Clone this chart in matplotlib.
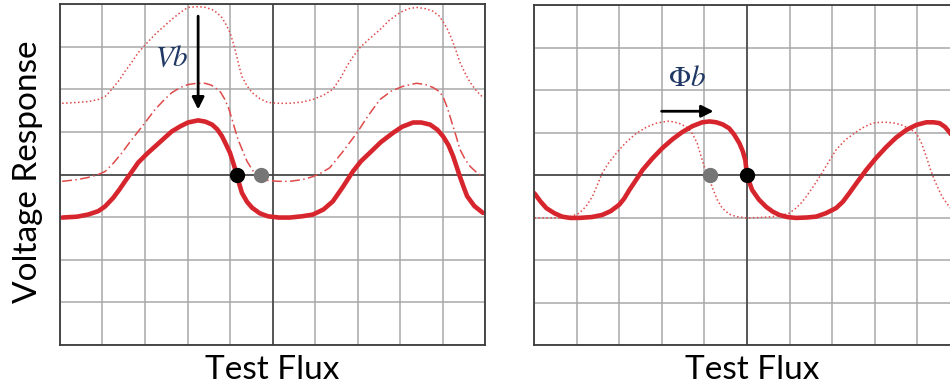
import numpy as np
import matplotlib.pyplot as plt

# grid units: x -5..5, y -4..4, operating point at the origin
# left panel: response before and after a voltage bias shift
left_x_solid = [-4.95, -4.6, -4.34, -4.1, -3.94, -3.75, -3.6, -3.47, -3.3, -3.16, -2.95, -2.76,
                -2.55, -2.37, -2.17, -1.99, -1.75, -1.58, -1.42, -1.3, -1.19, -1.1, -1.0, -0.92,
                -0.84, -0.78, -0.72, -0.6, -0.48, -0.3, -0.11, 0.15, 0.41, 0.7, 0.95, 1.2, 1.42,
                1.65, 1.89, 2.08, 2.29, 2.55, 2.84, 3.05, 3.31, 3.5, 3.71, 3.88, 4.01, 4.14,
                4.25, 4.33, 4.41, 4.5, 4.58, 4.75, 4.95]
left_y_solid = [-1.01, -0.99, -0.94, -0.86, -0.75, -0.55, -0.35, -0.16, 0.08, 0.28, 0.49, 0.66,
                0.85, 1.01, 1.13, 1.22, 1.27, 1.24, 1.17, 1.06, 0.90, 0.72, 0.51, 0.26,
                0.0, -0.23, -0.43, -0.64, -0.78, -0.91, -0.98, -1.01, -1.01, -0.98, -0.94, -0.82, -0.63,
                -0.30, 0.07, 0.31, 0.51, 0.76, 0.98, 1.12, 1.22, 1.22, 1.17, 1.05, 0.90, 0.69,
                0.43, 0.19, -0.05, -0.30, -0.51, -0.74, -0.90]

left_x_dashdot = [-4.95, -4.6, -4.34, -4.1, -3.94, -3.75, -3.54, -3.35, -3.16, -2.95, -2.76,
                  -2.55, -2.37, -2.17, -1.99, -1.79, -1.59, -1.45, -1.35, -1.22, -1.12, -1.03,
                  -0.95, -0.88, -0.81, -0.70, -0.60, -0.47, -0.34, -0.1, 0.13, 0.41, 0.7, 0.95,
                  1.15, 1.35, 1.65, 1.99, 2.25, 2.53, 2.8, 3.07, 3.39, 3.6, 3.78, 3.92, 4.01,
                  4.12, 4.22, 4.32, 4.41, 4.53, 4.65, 4.8, 4.95]
left_y_dashdot = [-0.16, -0.12, -0.07, 0.0, 0.07, 0.26, 0.51, 0.77, 1.01, 1.28, 1.53,
                  1.75, 1.92, 2.04, 2.11, 2.14, 2.14, 2.10, 2.04, 1.93, 1.76, 1.55,
                  1.29, 1.05, 0.82, 0.55, 0.31, 0.10, -0.05, -0.14, -0.16, -0.16, -0.12, -0.05,
                  0.04, 0.16, 0.53, 0.98, 1.38, 1.76, 1.96, 2.07, 2.14, 2.11, 2.04, 1.95, 1.83,
                  1.55, 1.22, 0.90, 0.59, 0.36, 0.19, 0.05, -0.05]

left_x_dotted = [-4.95, -4.6, -4.34, -4.1, -3.94, -3.85, -3.75, -3.6, -3.47, -3.3, -3.16, -2.95,
                 -2.76, -2.55, -2.37, -2.17, -1.99, -1.75, -1.58, -1.42, -1.3, -1.19, -1.1, -1.0,
                 -0.92, -0.84, -0.78, -0.72, -0.6, -0.48, -0.3, -0.11, 0.15, 0.41, 0.7, 0.95, 1.2,
                 1.42, 1.6, 1.75, 1.9, 2.06, 2.3, 2.53, 2.75, 3.0, 3.2, 3.39, 3.6, 3.78, 3.92,
                 4.01, 4.12, 4.22, 4.32, 4.41, 4.53, 4.65, 4.8, 4.95]
left_y_dotted = [1.67, 1.69, 1.71, 1.76, 1.83, 1.92, 2.04, 2.22, 2.42, 2.65, 2.86, 3.09,
                 3.29, 3.48, 3.64, 3.80, 3.92, 3.94, 3.92, 3.87, 3.79, 3.68, 3.53, 3.33,
                 3.07, 2.77, 2.52, 2.30, 2.08, 1.92, 1.78, 1.69, 1.67, 1.67, 1.70, 1.76, 1.86,
                 2.0, 2.26, 2.54, 2.77, 2.98, 3.20, 3.40, 3.62, 3.80, 3.89, 3.92, 3.89, 3.83, 3.72,
                 3.59, 3.40, 3.17, 2.90, 2.63, 2.38, 2.16, 1.96, 1.81]

# right panel: response before and after a flux bias shift
right_x_solid = [-4.99, -4.85, -4.71, -4.52, -4.34, -4.15, -3.94, -3.65, -3.40, -3.2, -3.0, -2.88,
                 -2.76, -2.6, -2.45, -2.22, -1.99, -1.75, -1.52, -1.28, -1.05, -0.88, -0.72, -0.57,
                 -0.42, -0.30, -0.18, -0.10, -0.04, 0.0, 0.05, 0.12, 0.28, 0.45, 0.6, 0.76, 0.95,
                 1.15, 1.4, 1.62, 1.85, 2.09, 2.25, 2.40, 2.6, 2.80, 3.03, 3.27, 3.5, 3.74, 3.98,
                 4.21, 4.38, 4.52, 4.65, 4.75, 4.87, 5.0]
right_y_solid = [-0.43, -0.62, -0.78, -0.90, -0.98, -1.01, -1.01, -0.99, -0.94, -0.85, -0.70, -0.55,
                 -0.35, -0.11, 0.12, 0.39, 0.63, 0.84, 1.01, 1.15, 1.24, 1.26, 1.24, 1.19,
                 1.10, 0.95, 0.75, 0.56, 0.35, 0.0, -0.16, -0.35, -0.58, -0.75, -0.86, -0.94, -0.99,
                 -1.01, -1.0, -0.98, -0.90, -0.78, -0.63, -0.43, -0.15, 0.12, 0.40, 0.66, 0.88, 1.06, 1.18,
                 1.24, 1.24, 1.22, 1.13, 1.01, 0.85, 0.65]

right_x_dotted = [-4.99, -4.6, -4.34, -4.12, -3.94, -3.78, -3.63, -3.52, -3.40, -3.25, -3.07,
                  -2.85, -2.60, -2.37, -2.13, -1.82, -1.6, -1.42, -1.28, -1.17, -1.08, -1.0, -0.9,
                  -0.8, -0.7, -0.58, -0.42, -0.25, 0.0, 0.3, 0.6, 0.8, 0.99, 1.15, 1.28, 1.39, 1.55,
                  1.70, 1.9, 2.09, 2.3, 2.56, 2.75, 2.95, 3.12, 3.30, 3.48, 3.65, 3.82, 3.98, 4.1,
                  4.21, 4.30, 4.40, 4.50, 4.58, 4.75, 4.87, 5.0]
right_y_dotted = [-1.01, -1.01, -1.01, -0.97, -0.90, -0.74, -0.51, -0.25, 0.04, 0.28, 0.51,
                  0.76, 0.98, 1.12, 1.22, 1.27, 1.22, 1.13, 0.97, 0.75, 0.45, 0.19, -0.05,
                  -0.33, -0.58, -0.78, -0.92, -0.98, -1.01, -1.0, -0.98, -0.95, -0.90, -0.78, -0.65, -0.51, -0.28,
                  -0.05, 0.28, 0.59, 0.82, 1.01, 1.13, 1.22, 1.24, 1.24, 1.22, 1.17, 1.09, 0.98, 0.74,
                  0.43, 0.15, -0.12, -0.34, -0.51, -0.75, -0.88, -0.95]

# operating points (new, old)
left_points = [(-0.84, 0.0), (-0.27, 0.0)]
right_points = [(0.0, 0.0), (-0.86, 0.0)]

RED = '#d7252d'
LIGHT_RED = '#e04a4a'
LABEL_BLUE = '#1f3864'

plt.rcParams['mathtext.fontset'] = 'stix'

fig = plt.figure(figsize=(9.5, 3.9), dpi=100)
W, H = 950, 390
ax1 = fig.add_axes([60 / W, 45 / H, 425 / W, 341 / H])
ax2 = fig.add_axes([534 / W, 45 / H, 426 / W, 340 / H])


def setup(ax):
    ax.set_xlim(-5, 5)
    ax.set_ylim(-4, 4)
    ax.set_xticks(range(-5, 6))
    ax.set_yticks(range(-4, 5))
    ax.tick_params(length=0, labelbottom=False, labelleft=False)
    ax.grid(True, color='#a8a8a8', lw=1.1)
    ax.axhline(0, color='#3c3c3c', lw=1.1, zorder=1.5)
    ax.axvline(0, color='#3c3c3c', lw=1.1, zorder=1.5)
    for s in ax.spines.values():
        s.set_color('#3c3c3c')
        s.set_linewidth(1.3)
    ax.set_axisbelow(True)


setup(ax1)
setup(ax2)

solid_kw = dict(color=RED, lw=3.3, solid_capstyle='round', solid_joinstyle='round')
dot_kw = dict(color=LIGHT_RED, lw=1.1, ls=(0, (1, 1.6)))

# left panel
ax1.plot(left_x_dotted, left_y_dotted, **dot_kw)
ax1.plot(left_x_dashdot, left_y_dashdot, color=LIGHT_RED, lw=1.1, ls=(0, (6.5, 2.2, 1, 2.2)))
ax1.plot(left_x_solid, left_y_solid, **solid_kw)
ax1.plot(*left_points[0], 'o', color='black', ms=10, zorder=5)
ax1.plot(*left_points[1], 'o', color='#767676', ms=10, zorder=5)
ax1.annotate('', xy=(-1.75, 1.46), xytext=(-1.75, 3.78),
             arrowprops=dict(arrowstyle='-|>', color='black', lw=2.0, mutation_scale=18))
ax1.text(-2.36, 2.75, r'$Vb$', color=LABEL_BLUE, fontsize=21, ha='center', va='center')

# right panel
ax2.plot(right_x_dotted, right_y_dotted, **dot_kw)
ax2.plot(right_x_solid, right_y_solid, **solid_kw)
ax2.plot(*right_points[0], 'o', color='black', ms=10, zorder=5)
ax2.plot(*right_points[1], 'o', color='#767676', ms=10, zorder=5)
ax2.annotate('', xy=(-0.72, 1.5), xytext=(-2.07, 1.5),
             arrowprops=dict(arrowstyle='-|>', color='black', lw=2.0, mutation_scale=18))
ax2.text(-1.42, 2.28, r'$\Phi b$', color=LABEL_BLUE, fontsize=21, ha='center', va='center')

# axis titles
fig.text(272 / W, 1 - 370 / H, 'Test Flux', family='Lato', fontsize=24, ha='center', va='center')
fig.text(752 / W, 1 - 370 / H, 'Test Flux', family='Lato', fontsize=24, ha='center', va='center')
fig.text(28 / W, 1 - 172 / H, 'Voltage Response', family='Lato', fontsize=24,
         rotation=90, ha='center', va='center')

fig.savefig('out.png', dpi=100)
